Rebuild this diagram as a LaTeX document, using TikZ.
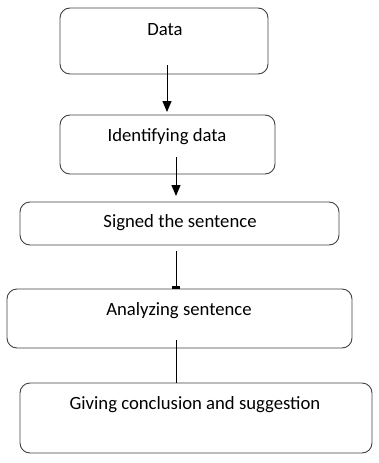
\documentclass[tikz,border=0pt]{standalone}
\usepackage{fontspec}
\setmainfont{Carlito}
\usetikzlibrary{arrows.meta}
\begin{document}
\begin{tikzpicture}[x=1pt,y=-1pt,
  box/.style={draw=black!75,line width=0.9pt,rounded corners=10pt,inner sep=0pt},
  lbl/.style={font=\fontsize{18.7}{22}\selectfont,inner sep=0pt,anchor=base},
  arr/.style={draw=black,line width=1pt,-{Triangle[length=11pt,width=9pt]}},
  tee/.style={draw=black,line width=1pt,-{Rectangle[length=2.5pt,width=8pt]}}]
\useasboundingbox (0,0) rectangle (378,463);
\node[box,minimum width=208pt,minimum height=66pt] (b1) at (164,41) {};
\node[box,minimum width=215pt,minimum height=59pt] (b2) at (167.5,144.5) {};
\node[box,minimum width=319pt,minimum height=43pt] (b3) at (179.5,223.5) {};
\node[box,minimum width=345pt,minimum height=59pt] (b4) at (179.5,318.5) {};
\node[box,minimum width=352pt,minimum height=70pt] (b5) at (196,418) {};
\node[lbl] (t1) at (165,35) {Data};
\node[lbl] (t2) at (167,141) {Identifying data};
\node[lbl] (t3) at (180,227) {Signed the sentence};
\node[lbl] (t4) at (179,315) {Analyzing sentence};
\node[lbl] (t5) at (195,409) {Giving conclusion and suggestion};
\coordinate (s1) at (167,65);
\coordinate (e1) at (167,112);
\coordinate (s2) at (176,157);
\coordinate (e2) at (176,196);
\coordinate (s3) at (176,251);
\coordinate (e3) at (176,288.5);
\coordinate (s4) at (176,340);
\draw[arr] (s1) -- (e1);
\draw[arr] (s2) -- (e2);
\draw[tee] (s3) -- (e3);
\draw[draw=black,line width=1pt] (s4) -- (s4 |- b5.north);
\end{tikzpicture}
\end{document}
